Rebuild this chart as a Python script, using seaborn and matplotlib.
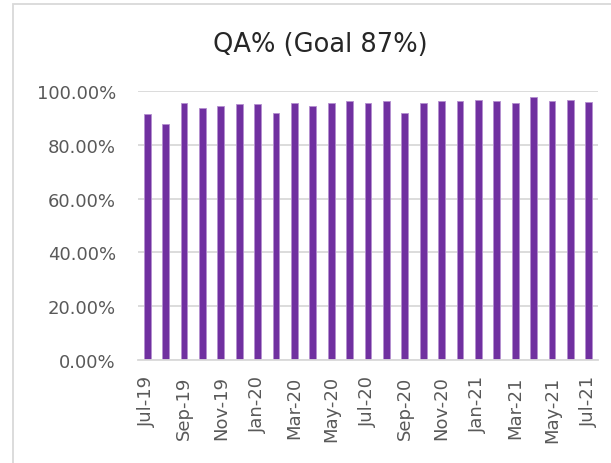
import matplotlib
matplotlib.use("Agg")
import matplotlib.pyplot as plt
import matplotlib.patches as mpatches
from matplotlib.ticker import PercentFormatter
import pandas as pd
import seaborn as sns

# monthly QA scores, Jul-19 .. Jul-21
months = ["Jul-19", "Aug-19", "Sep-19", "Oct-19", "Nov-19", "Dec-19", "Jan-20",
          "Feb-20", "Mar-20", "Apr-20", "May-20", "Jun-20", "Jul-20", "Aug-20",
          "Sep-20", "Oct-20", "Nov-20", "Dec-20", "Jan-21", "Feb-21", "Mar-21",
          "Apr-21", "May-21", "Jun-21", "Jul-21"]
qa_pct = [91.3, 87.9, 95.4, 93.7, 94.3, 95.3, 95.3, 92.0, 95.4, 94.3, 95.4,
          96.4, 95.7, 96.4, 91.7, 95.7, 96.4, 96.4, 96.8, 96.1, 95.4, 97.9,
          96.2, 96.6, 95.8]

df = pd.DataFrame({"month": months, "qa": qa_pct})

sns.set_style("white")
plt.rcParams["font.family"] = ["DejaVu Sans"]
text_col = "#595959"

fig = plt.figure(figsize=(6.11, 4.64), dpi=100)
ax = fig.add_axes([138 / 611, 1 - 361 / 464, 460 / 611, 269 / 464])

sns.barplot(data=df, x="month", y="qa", color="#7030A0", saturation=1,
            width=0.36, edgecolor="#B48FD0", linewidth=0.6, ax=ax)

ax.set_ylim(0, 100)
ax.set_yticks([0, 20, 40, 60, 80, 100])
ax.yaxis.set_major_formatter(PercentFormatter(decimals=2))
ax.grid(axis="y", color="#D9D9D9", linewidth=1.3)
ax.set_axisbelow(True)
for s in ["top", "right", "left"]:
    ax.spines[s].set_visible(False)
ax.spines["bottom"].set_color("#D9D9D9")
ax.spines["bottom"].set_linewidth(1.3)

ax.set_xticks(range(0, len(months), 2))
ax.set_xticklabels(months[::2], rotation=90)
ax.tick_params(axis="both", length=0, colors=text_col, labelsize=13)
ax.tick_params(axis="y", pad=16)
ax.tick_params(axis="x", pad=11)
ax.set_xlabel("")
ax.set_ylabel("")

fig.text(320 / 611, 1 - 45 / 464, "QA% (Goal 87%)", ha="center", va="center",
         fontsize=18.5, color="#262626")

# chart area border (cropped on the right and bottom)
fig.patches.append(mpatches.Rectangle((13 / 611, -0.05), 1.1, 1 - 5 / 464 + 0.05,
                                      transform=fig.transFigure, fill=False,
                                      edgecolor="#D9D9D9", linewidth=1.3))

fig.savefig("out.png", dpi=100)
